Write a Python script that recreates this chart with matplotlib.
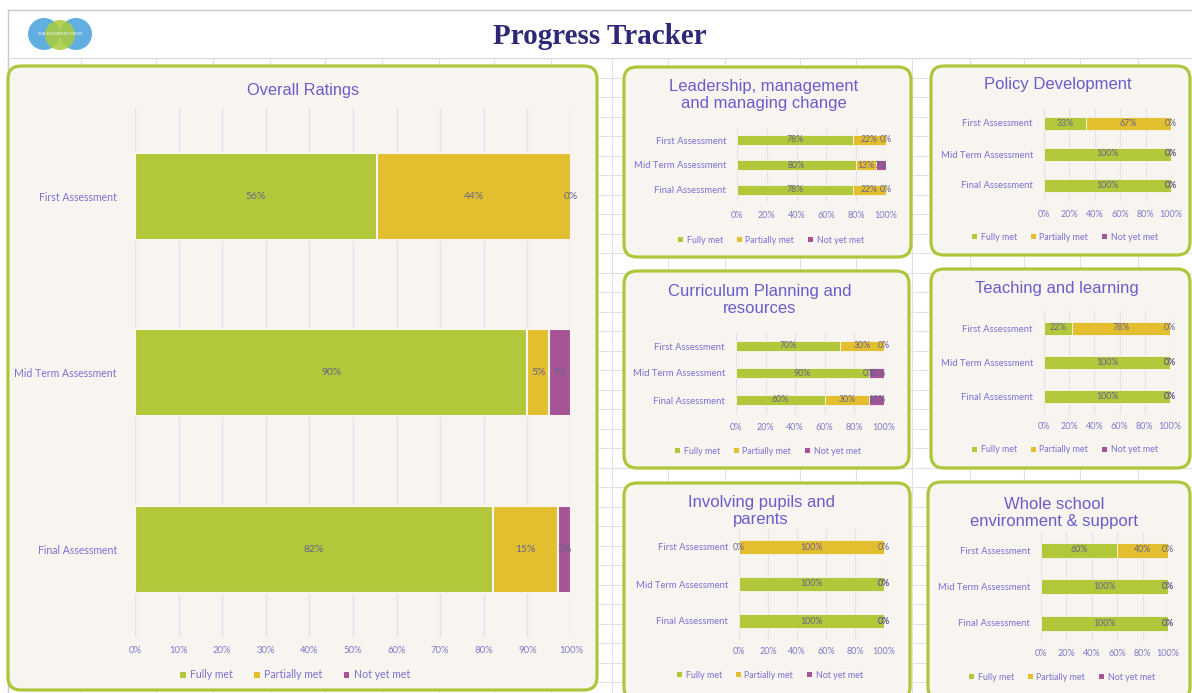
import numpy as np
import matplotlib
matplotlib.use("Agg")
import matplotlib.pyplot as plt
from matplotlib.patches import FancyBboxPatch, Rectangle, Circle, Patch

W, H = 1192, 693

# ---- data ----
assessments = ["First Assessment", "Mid Term Assessment", "Final Assessment"]
series_names = ["Fully met", "Partially met", "Not yet met"]

overall_fully = [55.5, 90, 82]
overall_partial = [44.5, 5, 15]
overall_not = [0, 5, 3]

leadership_fully = [78, 80, 78]
leadership_partial = [22, 13, 22]
leadership_not = [0, 7, 0]

policy_fully = [33, 100, 100]
policy_partial = [67, 0, 0]
policy_not = [0, 0, 0]

curriculum_fully = [70, 90, 60]
curriculum_partial = [30, 0, 30]
curriculum_not = [0, 10, 10]

teaching_fully = [22, 100, 100]
teaching_partial = [78, 0, 0]
teaching_not = [0, 0, 0]

involving_fully = [0, 100, 100]
involving_partial = [100, 0, 0]
involving_not = [0, 0, 0]

whole_fully = [60, 100, 100]
whole_partial = [40, 0, 0]
whole_not = [0, 0, 0]

# ---- styles ----
GREEN = "#B3C73B"
YELLOW = "#E3BF30"
PURPLE = "#A65495"
colors = [GREEN, YELLOW, PURPLE]
PANEL_FC = "#F8F5F0"
PANEL_EC = "#AEC63C"
TITLE_C = "#6A5CCB"
LABEL_C = "#7B70D2"
VALUE_C = "#66628C"
TICK_C = "#7F79C9"
GRID_C = "#E3E1EF"
SHEET_C = "#E2E2E2"

fig = plt.figure(figsize=(W / 100, H / 100), dpi=100)
fig.patch.set_facecolor("white")

# background in pixel units
bg = fig.add_axes([0, 0, 1, 1])
bg.set_xlim(0, W)
bg.set_ylim(H, 0)
bg.axis("off")

# spreadsheet grid
col_lines = [8, 81, 156, 213, 270, 325, 382, 439, 494, 551, 612, 668, 725, 800,
             856, 912, 970, 1024, 1080, 1138]
for x in col_lines:
    bg.plot([x, x], [58, H], color=SHEET_C, lw=0.8, zorder=0)
for y in np.arange(58, H, 19.5):
    bg.plot([8, W], [y, y], color=SHEET_C, lw=0.8, zorder=0)

# header strip
bg.add_patch(Rectangle((8, 10), W - 8, 48, fc="white", ec="none", zorder=1))
bg.plot([8, W], [10, 10], color="#C8C8C8", lw=1, zorder=2)
bg.plot([8, 8], [10, H], color="#C8C8C8", lw=1, zorder=2)
bg.plot([8, W], [58, 58], color="#DADADA", lw=0.8, zorder=2)

# logo
bg.add_patch(Circle((44, 34), 16, fc="#58AAE0", ec="none", alpha=0.95, zorder=3))
bg.add_patch(Circle((76, 34), 16, fc="#58AAE0", ec="none", alpha=0.95, zorder=3))
bg.add_patch(Circle((60, 35), 15, fc="#A9CC3A", ec="none", alpha=0.85, zorder=4))
bg.text(60, 34, "SEN EDUCATION FORUM", fontsize=2.6, color="white",
        ha="center", va="center", zorder=5, family="DejaVu Sans")

bg.text(600, 37, "Progress Tracker", fontsize=21, fontweight="bold",
        family="Liberation Serif", color="#2E2876", ha="center", va="center", zorder=5)

# panels (x0, y0, x1, y1)
panels = [(8, 66, 597, 690), (624, 67, 911, 257), (931, 66, 1190, 255),
          (624, 271, 909, 468), (931, 269, 1190, 468), (624, 483, 910, 700),
          (928, 482, 1190, 700)]
for x0, y0, x1, y1 in panels:
    bg.add_patch(FancyBboxPatch((x0, y0), x1 - x0, y1 - y0,
                                boxstyle="round,pad=0,rounding_size=13",
                                fc=PANEL_FC, ec=PANEL_EC, lw=2.3, zorder=6))


def draw_chart(fully, partial, notmet, title, title_xy, x0, x1, cats_px, bar_px,
               tick_y, legend_xy, ticks, small=True):
    spacing = (cats_px[2] - cats_px[0]) / 2
    top = cats_px[0] - spacing / 2
    bottom = cats_px[2] + spacing / 2
    ax = fig.add_axes([x0 / W, 1 - bottom / H, (x1 - x0) / W, (bottom - top) / H])
    ax.set_facecolor("none")
    ax.set_zorder(10)
    ax.set_xlim(0, 100)
    ax.set_ylim(2.5, -0.5)
    ypos = np.arange(3)
    h = bar_px / spacing
    fs_val = 6.3 if small else 7.5
    lefts = np.zeros(3)
    for vals, c in zip([fully, partial, notmet], colors):
        vals = np.array(vals, dtype=float)
        ax.barh(ypos, vals, left=lefts, height=h, color=c,
                edgecolor=PANEL_FC, linewidth=0.6 if small else 1.5, zorder=3)
        for i in range(3):
            ax.text(lefts[i] + vals[i] / 2, i, f"{vals[i]:.0f}%", ha="center",
                    va="center", fontsize=fs_val, color=VALUE_C, family="Lato", zorder=4)
        lefts += vals
    ax.set_xticks(ticks)
    fs_tick = 6.5 if small else 6.8
    ax.set_xticklabels([f"{t}%" for t in ticks], color=TICK_C, fontsize=fs_tick, family="Lato")
    ax.set_yticks(ypos)
    ax.set_yticklabels(assessments, color=LABEL_C, fontsize=6.8 if small else 7.6, family="Lato")
    pad_px = (tick_y - bottom) - fs_tick * 1.389 / 2
    ax.tick_params(axis="x", length=0, pad=pad_px * 0.72)
    ax.tick_params(axis="y", length=0, pad=(11 if small else 18) * 0.72)
    ax.grid(axis="x", color=GRID_C, lw=1.0 if not small else 0.9, zorder=0)
    for s in ax.spines.values():
        s.set_visible(False)

    bg.text(title_xy[0], title_xy[1], title, ha="center", va="center",
            fontsize=12 if small else 11.8, color=TITLE_C, family="Liberation Sans",
            linespacing=1.15, zorder=8)

    handles = [Patch(fc=c, ec="none") for c in colors]
    fig.legend(handles, series_names, loc="center",
               bbox_to_anchor=(legend_xy[0] / W, 1 - legend_xy[1] / H),
               ncol=3, frameon=False,
               labelcolor=LABEL_C, handlelength=0.55, handleheight=0.55,
               handletextpad=0.4, columnspacing=1.6 if small else 2.0,
               prop={"family": "Lato", "size": 6.4 if small else 7.6})
    return ax


draw_chart(overall_fully, overall_partial, overall_not, "Overall Ratings", (303, 91),
           135, 571, [196, 373, 549], 87, 651, (295, 675), list(range(0, 101, 10)), small=False)
draw_chart(leadership_fully, leadership_partial, leadership_not,
           "Leadership, management\nand managing change", (764, 95),
           737, 886, [140, 165, 190], 10, 216, (771, 240), list(range(0, 101, 20)))
draw_chart(policy_fully, policy_partial, policy_not, "Policy Development", (1058, 84),
           1044, 1171, [123, 154, 185], 13, 215, (1065, 237), list(range(0, 101, 20)))
draw_chart(curriculum_fully, curriculum_partial, curriculum_not,
           "Curriculum Planning and\nresources", (760, 300),
           736, 884, [346, 373, 400], 10, 428, (768, 451), list(range(0, 101, 20)))
draw_chart(teaching_fully, teaching_partial, teaching_not, "Teaching and learning", (1057, 288),
           1044, 1170, [328, 363, 397], 13, 427, (1065, 450), list(range(0, 101, 20)))
draw_chart(involving_fully, involving_partial, involving_not,
           "Involving pupils and\nparents", (761, 511),
           739, 884, [547, 585, 621], 14, 652, (770, 675), list(range(0, 101, 20)))
draw_chart(whole_fully, whole_partial, whole_not,
           "Whole school\nenvironment & support", (1054, 513),
           1041, 1168, [550, 586, 623], 15, 654, (1062, 677), list(range(0, 101, 20)))

fig.savefig("out.png", dpi=100, facecolor="white")
